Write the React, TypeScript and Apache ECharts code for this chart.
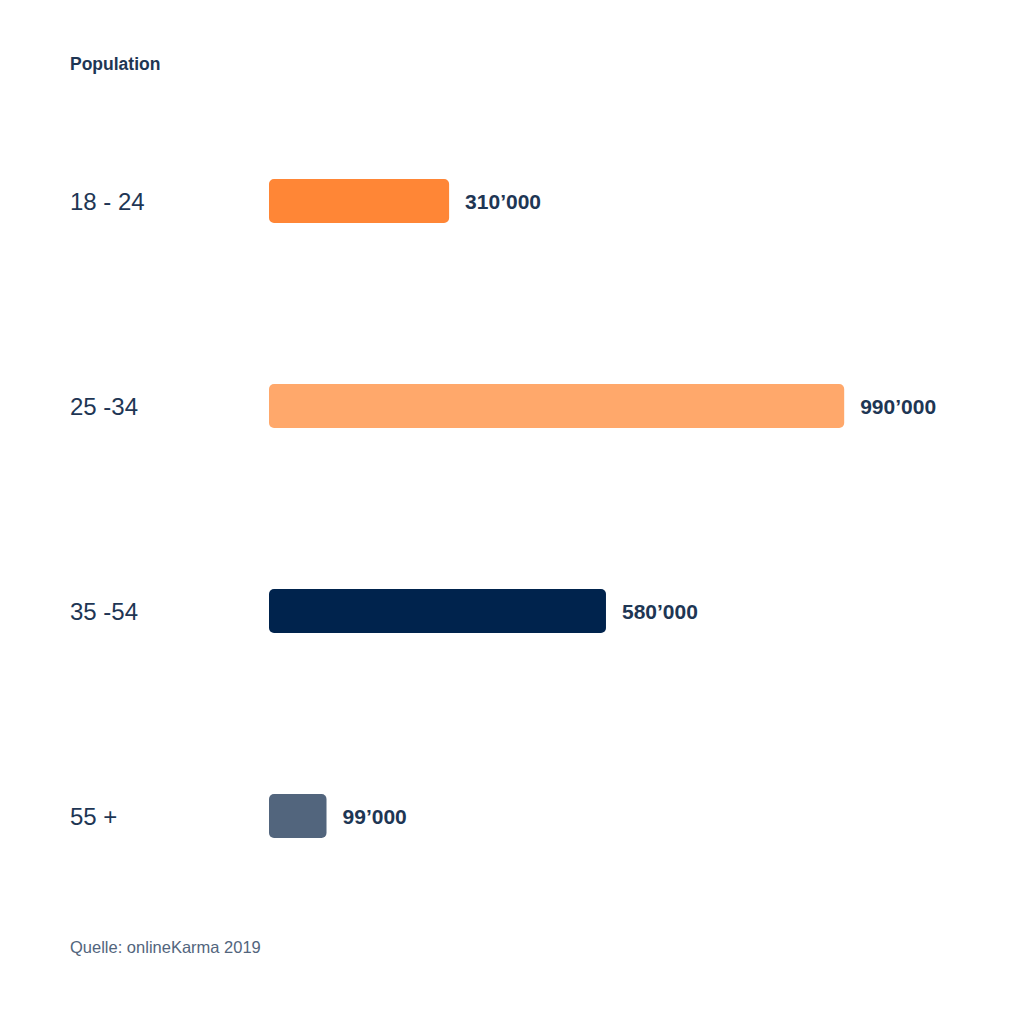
import * as echarts from 'echarts';
import { useEffect, useRef } from 'react';

const ageGroups = ['18 - 24', '25 -34', '35 -54', '55 +'];
const population = [310000, 990000, 580000, 99000];
const barColors = ['#FF8636', '#FFA86B', '#00234D', '#52657D'];

const formatSwiss = (v: number) =>
  String(v).replace(/\B(?=(\d{3})+(?!\d))/g, '\u2019');

function App() {
  const chartRef = useRef<HTMLDivElement>(null);

  useEffect(() => {
    document.body.style.margin = '0';
    const myChart = echarts.init(chartRef.current, null, { renderer: 'svg' });

    const option = {
      animation: false,
      backgroundColor: '#ffffff',
      textStyle: { fontFamily: 'Liberation Sans' },
      title: [
        {
          text: 'Population',
          left: 70,
          top: 55,
          padding: 0,
          textStyle: { fontSize: 17.5, fontWeight: 'bold', color: '#1E3654' },
        },
        {
          text: 'Quelle: onlineKarma 2019',
          left: 70,
          top: 938.5,
          padding: 0,
          textStyle: { fontSize: 16.5, fontWeight: 'normal', color: '#52657D' },
        },
      ],
      grid: { left: 269, top: 98.5, width: 581, height: 820 },
      xAxis: {
        type: 'value',
        min: 0,
        max: 1000000,
        show: false,
      },
      yAxis: {
        type: 'category',
        data: ageGroups,
        inverse: true,
        axisLine: { show: false },
        axisTick: { show: false },
        splitLine: { show: false },
        axisLabel: {
          align: 'left',
          margin: 199,
          fontSize: 24,
          color: '#1E3654',
        },
      },
      series: [
        {
          type: 'bar',
          barWidth: 44,
          data: population.map((v, i) => ({
            value: v,
            itemStyle: { color: barColors[i] },
          })),
          itemStyle: { borderRadius: 5 },
          label: {
            show: true,
            position: 'right',
            distance: 16,
            fontSize: 21,
            fontWeight: 'bold',
            color: '#1E3654',
            formatter: (p: any) => formatSwiss(p.value),
          },
        },
      ],
    };

    myChart.setOption(option);

    return () => {
      myChart.dispose();
    };
  }, []);

  return <div ref={chartRef} style={{ width: '1024px', height: '1024px' }}></div>;
}

export default App;
